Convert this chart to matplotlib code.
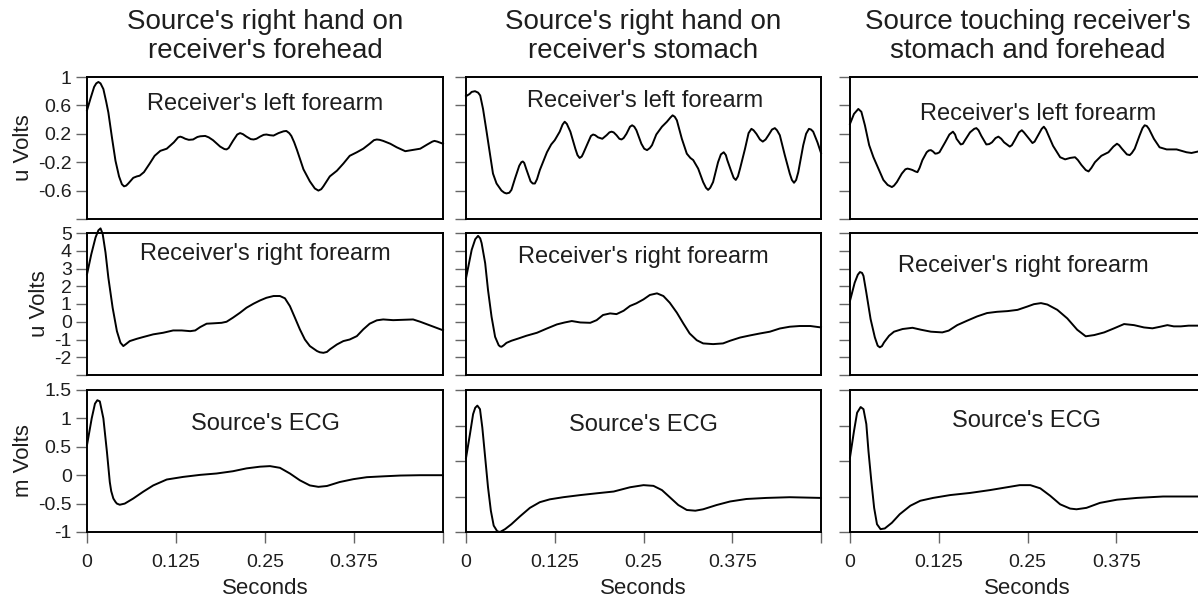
import matplotlib
matplotlib.use("Agg")
import matplotlib.pyplot as plt

plt.rcParams['font.family'] = ['Liberation Sans', 'DejaVu Sans']
plt.rcParams['axes.unicode_minus'] = False

# ---------------- data (seconds, volts) ----------------
col_titles = ["Source's right hand on\nreceiver's forehead",
              "Source's right hand on\nreceiver's stomach",
              "Source touching receiver's\nstomach and forehead"]
row_labels = ["Receiver's left forearm", "Receiver's right forearm", "Source's ECG"]
row_units = ["u Volts", "u Volts", "m Volts"]

x_ticks = [0, 0.125, 0.25, 0.375, 0.5]
x_ticklabels = ["0", "0.125", "0.25", "0.375", ""]

# column 1
t_lf1 = [0, 0.005, 0.010, 0.013, 0.016, 0.019, 0.023, 0.027, 0.030, 0.035, 0.040, 0.045, 0.049, 0.052, 0.055,
         0.058, 0.065, 0.070, 0.074, 0.080, 0.088, 0.095, 0.103, 0.112, 0.122, 0.128, 0.131, 0.134, 0.138, 0.143,
         0.149, 0.155, 0.159, 0.166, 0.171, 0.177, 0.187, 0.193, 0.196, 0.199, 0.205, 0.211, 0.215, 0.219, 0.224,
         0.230, 0.234, 0.238, 0.243, 0.248, 0.252, 0.257, 0.262, 0.269, 0.276, 0.280, 0.284, 0.287, 0.291, 0.295,
         0.304, 0.313, 0.320, 0.325, 0.329, 0.332, 0.341, 0.351, 0.360, 0.369, 0.379, 0.388, 0.397, 0.403, 0.407,
         0.411, 0.416, 0.426, 0.435, 0.447, 0.456, 0.468, 0.478, 0.485, 0.488, 0.492, 0.5]
v_lf1 = [0.53, 0.70, 0.86, 0.91, 0.93, 0.91, 0.83, 0.65, 0.50, 0.15, -0.18, -0.40, -0.51, -0.54, -0.53,
         -0.50, -0.42, -0.40, -0.39, -0.34, -0.22, -0.11, -0.04, -0.01, 0.08, 0.15, 0.16, 0.15, 0.13, 0.115,
         0.12, 0.155, 0.165, 0.17, 0.15, 0.11, 0.02, -0.015, -0.02, 0.0, 0.10, 0.19, 0.21, 0.195, 0.16,
         0.125, 0.12, 0.13, 0.16, 0.185, 0.19, 0.18, 0.175, 0.21, 0.235, 0.24, 0.21, 0.17, 0.08, -0.03,
         -0.30, -0.47, -0.57, -0.60, -0.58, -0.54, -0.40, -0.32, -0.22, -0.11, -0.06, -0.01, 0.06, 0.11, 0.12,
         0.115, 0.10, 0.06, 0.01, -0.045, -0.03, -0.01, 0.05, 0.09, 0.10, 0.09, 0.06]

t_rf1 = [0, 0.006, 0.012, 0.016, 0.019, 0.022, 0.026, 0.030, 0.036, 0.042, 0.047, 0.051, 0.055, 0.060, 0.070,
         0.079, 0.093, 0.107, 0.121, 0.133, 0.145, 0.152, 0.159, 0.168, 0.177, 0.189, 0.196, 0.205, 0.215, 0.224,
         0.234, 0.243, 0.252, 0.262, 0.271, 0.278, 0.285, 0.292, 0.299, 0.306, 0.313, 0.323, 0.327, 0.332, 0.337,
         0.341, 0.351, 0.360, 0.369, 0.379, 0.388, 0.397, 0.407, 0.416, 0.430, 0.444, 0.458, 0.468, 0.478, 0.488,
         0.5]
v_rf1 = [2.67, 3.8, 4.75, 5.15, 5.26, 4.95, 3.9, 2.48, 0.79, -0.53, -1.18, -1.37, -1.25, -1.09, -0.96,
         -0.86, -0.71, -0.62, -0.49, -0.49, -0.53, -0.49, -0.30, -0.11, -0.09, -0.06, 0.0, 0.23, 0.51, 0.79,
         1.02, 1.2, 1.35, 1.45, 1.45, 1.32, 0.88, 0.23, -0.43, -1.0, -1.37, -1.65, -1.72, -1.75, -1.70,
         -1.56, -1.28, -1.09, -1.0, -0.81, -0.43, -0.11, 0.08, 0.13, 0.09, 0.11, 0.13, 0.0, -0.15, -0.3,
         -0.48]

t_ecg1 = [0, 0.0066, 0.0112, 0.0145, 0.018, 0.023, 0.028, 0.032, 0.034, 0.037, 0.040, 0.042, 0.046, 0.053, 0.065,
          0.079, 0.093, 0.112, 0.135, 0.159, 0.182, 0.205, 0.224, 0.243, 0.257, 0.271, 0.285, 0.299, 0.313, 0.325,
          0.337, 0.355, 0.374, 0.393, 0.416, 0.44, 0.468, 0.5]
v_ecg1 = [0.53, 1.0, 1.26, 1.32, 1.30, 1.0, 0.41, -0.12, -0.28, -0.41, -0.47, -0.50, -0.52, -0.50, -0.41,
          -0.29, -0.18, -0.076, -0.03, 0.006, 0.03, 0.07, 0.12, 0.15, 0.16, 0.13, 0.03, -0.09, -0.18, -0.205,
          -0.19, -0.12, -0.07, -0.035, -0.02, -0.006, 0.0, 0.0]

# column 2
t_lf2 = [0, 0.005, 0.008, 0.0127, 0.017, 0.020, 0.024, 0.029, 0.034, 0.038, 0.043, 0.050, 0.054, 0.057, 0.061,
         0.064, 0.069, 0.075, 0.078, 0.080, 0.082, 0.085, 0.091, 0.094, 0.097, 0.100, 0.104, 0.114, 0.120, 0.125,
         0.132, 0.136, 0.139, 0.142, 0.147, 0.154, 0.157, 0.160, 0.163, 0.165, 0.172, 0.176, 0.179, 0.182, 0.186,
         0.192, 0.198, 0.202, 0.205, 0.208, 0.212, 0.216, 0.219, 0.222, 0.226, 0.231, 0.234, 0.237, 0.240, 0.247,
         0.251, 0.255, 0.259, 0.262, 0.268, 0.276, 0.283, 0.288, 0.291, 0.294, 0.297, 0.304, 0.311, 0.316, 0.320,
         0.327, 0.334, 0.338, 0.341, 0.344, 0.348, 0.355, 0.359, 0.363, 0.366, 0.368, 0.374, 0.377, 0.380, 0.383,
         0.386, 0.393, 0.398, 0.402, 0.405, 0.409, 0.414, 0.418, 0.422, 0.426, 0.431, 0.435, 0.438, 0.442, 0.449,
         0.456, 0.459, 0.462, 0.465, 0.468, 0.475, 0.479, 0.483, 0.486, 0.489, 0.495, 0.5]
v_lf2 = [0.73, 0.76, 0.79, 0.80, 0.78, 0.74, 0.55, 0.23, -0.10, -0.36, -0.50, -0.60, -0.63, -0.64, -0.63,
         -0.59, -0.43, -0.25, -0.20, -0.19, -0.21, -0.30, -0.47, -0.50, -0.50, -0.44, -0.31, -0.06, 0.05, 0.11,
         0.23, 0.33, 0.37, 0.34, 0.23, -0.01, -0.10, -0.14, -0.12, -0.08, 0.08, 0.17, 0.19, 0.18, 0.15,
         0.13, 0.18, 0.22, 0.23, 0.22, 0.18, 0.13, 0.12, 0.14, 0.20, 0.30, 0.32, 0.30, 0.25, 0.06,
         -0.01, -0.03, 0.00, 0.04, 0.19, 0.30, 0.37, 0.43, 0.46, 0.44, 0.39, 0.13, -0.08, -0.14, -0.17,
         -0.29, -0.48, -0.56, -0.59, -0.56, -0.48, -0.20, -0.09, -0.06, -0.10, -0.17, -0.34, -0.42, -0.45, -0.40,
         -0.29, -0.01, 0.21, 0.27, 0.25, 0.20, 0.12, 0.09, 0.12, 0.18, 0.26, 0.28, 0.25, 0.18, -0.10,
         -0.36, -0.45, -0.49, -0.45, -0.34, 0.04, 0.20, 0.27, 0.26, 0.23, 0.08, -0.07]

t_rf2 = [0, 0.008, 0.013, 0.017, 0.020, 0.022, 0.027, 0.031, 0.036, 0.041, 0.046, 0.048, 0.050, 0.053, 0.057,
         0.064, 0.074, 0.085, 0.100, 0.114, 0.128, 0.139, 0.149, 0.161, 0.175, 0.184, 0.193, 0.203, 0.212, 0.222,
         0.231, 0.240, 0.250, 0.259, 0.269, 0.278, 0.287, 0.297, 0.306, 0.315, 0.325, 0.334, 0.348, 0.362, 0.372,
         0.386, 0.400, 0.414, 0.428, 0.442, 0.456, 0.470, 0.485, 0.5]
v_rf2 = [2.45, 4.05, 4.65, 4.84, 4.7, 4.43, 3.3, 1.79, 0.28, -0.85, -1.32, -1.39, -1.41, -1.33, -1.19,
         -1.07, -0.94, -0.79, -0.62, -0.38, -0.15, -0.04, 0.04, -0.04, -0.06, 0.09, 0.38, 0.47, 0.43, 0.62,
         0.89, 1.04, 1.26, 1.51, 1.60, 1.45, 1.07, 0.51, -0.09, -0.66, -1.04, -1.22, -1.26, -1.22, -1.07,
         -0.89, -0.77, -0.66, -0.56, -0.38, -0.28, -0.24, -0.24, -0.32]

t_ecg2 = [0, 0.0056, 0.010, 0.013, 0.016, 0.0197, 0.023, 0.027, 0.031, 0.035, 0.039, 0.044, 0.048, 0.055, 0.064,
          0.076, 0.090, 0.104, 0.118, 0.137, 0.161, 0.184, 0.208, 0.231, 0.250, 0.264, 0.276, 0.287, 0.299, 0.311,
          0.323, 0.334, 0.353, 0.372, 0.395, 0.423, 0.456, 0.5]
v_ecg2 = [0.04, 0.38, 0.66, 0.75, 0.78, 0.73, 0.47, 0.05, -0.37, -0.70, -0.91, -0.99, -1.0, -0.96, -0.89,
          -0.78, -0.66, -0.58, -0.54, -0.51, -0.48, -0.455, -0.43, -0.37, -0.34, -0.35, -0.41, -0.51, -0.62, -0.69,
          -0.70, -0.68, -0.62, -0.57, -0.535, -0.52, -0.51, -0.52]

# column 3
t_lf3 = [0, 0.0056, 0.0117, 0.016, 0.021, 0.027, 0.033, 0.040, 0.047, 0.053, 0.059, 0.062, 0.066, 0.073, 0.078,
         0.081, 0.085, 0.088, 0.092, 0.095, 0.098, 0.102, 0.108, 0.111, 0.114, 0.117, 0.120, 0.123, 0.126, 0.134,
         0.140, 0.145, 0.148, 0.150, 0.156, 0.159, 0.162, 0.169, 0.175, 0.178, 0.181, 0.185, 0.192, 0.196, 0.200,
         0.205, 0.209, 0.213, 0.217, 0.225, 0.228, 0.232, 0.238, 0.242, 0.245, 0.249, 0.257, 0.260, 0.265, 0.270,
         0.273, 0.276, 0.279, 0.286, 0.296, 0.303, 0.310, 0.317, 0.321, 0.326, 0.332, 0.336, 0.340, 0.345, 0.354,
         0.364, 0.371, 0.376, 0.379, 0.383, 0.390, 0.394, 0.397, 0.401, 0.408, 0.412, 0.415, 0.418, 0.421, 0.428,
         0.436, 0.446, 0.460, 0.474, 0.481, 0.490, 0.5]
v_lf3 = [0.34, 0.48, 0.55, 0.51, 0.32, 0.04, -0.13, -0.29, -0.45, -0.52, -0.55, -0.53, -0.48, -0.36, -0.30,
         -0.29, -0.30, -0.31, -0.33, -0.34, -0.28, -0.17, -0.06, -0.035, -0.03, -0.05, -0.08, -0.075, -0.06, 0.08,
         0.19, 0.23, 0.19, 0.13, 0.05, 0.06, 0.11, 0.22, 0.27, 0.28, 0.25, 0.17, 0.05, 0.055, 0.08,
         0.14, 0.16, 0.13, 0.08, 0.02, 0.04, 0.11, 0.22, 0.25, 0.22, 0.17, 0.07, 0.09, 0.18, 0.27,
         0.30, 0.26, 0.19, 0.03, -0.13, -0.16, -0.14, -0.13, -0.17, -0.24, -0.31, -0.33, -0.28, -0.20, -0.11,
         -0.06, 0.02, 0.06, 0.04, -0.01, -0.09, -0.10, -0.07, -0.01, 0.18, 0.28, 0.32, 0.31, 0.27, 0.13,
         0.01, -0.02, -0.02, -0.06, -0.07, -0.05, -0.05]

t_rf3 = [0, 0.0066, 0.011, 0.014, 0.017, 0.019, 0.023, 0.029, 0.035, 0.039, 0.042, 0.045, 0.048, 0.055, 0.062,
         0.074, 0.088, 0.100, 0.114, 0.130, 0.139, 0.151, 0.165, 0.179, 0.193, 0.207, 0.222, 0.236, 0.250, 0.259,
         0.269, 0.278, 0.292, 0.306, 0.320, 0.332, 0.344, 0.358, 0.372, 0.386, 0.400, 0.414, 0.426, 0.437, 0.447,
         0.456, 0.466, 0.477, 0.489, 0.5]
v_rf3 = [1.18, 2.2, 2.65, 2.8, 2.75, 2.58, 1.64, 0.15, -0.88, -1.35, -1.44, -1.37, -1.16, -0.79, -0.56,
         -0.41, -0.34, -0.45, -0.56, -0.60, -0.50, -0.19, 0.06, 0.30, 0.49, 0.56, 0.60, 0.67, 0.86, 0.99,
         1.05, 0.97, 0.67, 0.19, -0.45, -0.82, -0.75, -0.60, -0.37, -0.13, -0.19, -0.32, -0.37, -0.28, -0.19,
         -0.26, -0.26, -0.22, -0.22, -0.22]

t_ecg3 = [0, 0.0056, 0.010, 0.015, 0.019, 0.023, 0.026, 0.030, 0.034, 0.038, 0.043, 0.049, 0.059, 0.070, 0.085,
          0.099, 0.117, 0.141, 0.169, 0.197, 0.221, 0.239, 0.254, 0.268, 0.282, 0.296, 0.310, 0.319, 0.333, 0.352,
          0.376, 0.404, 0.441, 0.49, 0.5]
v_ecg3 = [0.05, 0.42, 0.68, 0.76, 0.73, 0.52, 0.14, -0.28, -0.66, -0.89, -0.96, -0.95, -0.87, -0.75, -0.63,
          -0.56, -0.52, -0.48, -0.45, -0.41, -0.37, -0.34, -0.34, -0.385, -0.49, -0.61, -0.67, -0.68, -0.66, -0.59,
          -0.545, -0.52, -0.50, -0.50, -0.50]

# y axes per row: ticks and labels
y1_ticks = [-1, -0.6, -0.2, 0.2, 0.6, 1]
y1_labels = ["", "-0.6", "-0.2", "0.2", "0.6", "1"]
y2_ticks = [-3, -2, -1, 0, 1, 2, 3, 4, 5]
y2_labels = ["", "-2", "-1", "0", "1", "2", "3", "4", "5"]
y3_ticks = [-1, -0.5, 0, 0.5, 1, 1.5]
y3_labels = ["-1", "-0.5", "0", "0.5", "1", "1.5"]
y3b_ticks = [-1, -0.5, 0, 0.5, 1]   # ECG panels of columns 2 and 3

series = [
    [(t_lf1, v_lf1), (t_rf1, v_rf1), (t_ecg1, v_ecg1)],
    [(t_lf2, v_lf2), (t_rf2, v_rf2), (t_ecg2, v_ecg2)],
    [(t_lf3, v_lf3), (t_rf3, v_rf3), (t_ecg3, v_ecg3)],
]

# ---------------- layout ----------------
W, H = 1198, 601
fig = plt.figure(figsize=(W / 100, H / 100), dpi=100)

col_px = [(87, 443), (466, 821), (850, 1205)]
row_px = [(77, 219), (233, 375), (390, 532)]
label_pos = [
    [(0.50, 0.768), (0.50, 0.81), (0.50, 0.718)],
    [(0.505, 0.789), (0.50, 0.789), (0.50, 0.711)],
    [(0.53, 0.697), (0.487, 0.725), (0.497, 0.739)],
]
text_col = '#1e1e1e'
tick_col = '#666666'

for c in range(3):
    x0, x1 = col_px[c]
    for r in range(3):
        y0, y1 = row_px[r]
        ax = fig.add_axes([x0 / W, 1 - y1 / H, (x1 - x0) / W, (y1 - y0) / H])
        t, v = series[c][r]
        ax.plot(t, v, color='black', lw=1.4, clip_on=False, solid_joinstyle='round')
        ax.set_xlim(0, 0.5)
        if r == 0:
            ax.set_ylim(-1, 1)
            ax.set_yticks(y1_ticks)
            ax.set_yticklabels(y1_labels if c == 0 else [""] * len(y1_ticks))
        elif r == 1:
            ax.set_ylim(-3, 5)
            ax.set_yticks(y2_ticks)
            ax.set_yticklabels(y2_labels if c == 0 else [""] * len(y2_ticks))
        else:
            if c == 0:
                ax.set_ylim(-1, 1.5)
                ax.set_yticks(y3_ticks)
                ax.set_yticklabels(y3_labels)
            else:
                ax.set_ylim(-1, 1)
                ax.set_yticks(y3b_ticks)
                ax.set_yticklabels([""] * len(y3b_ticks))
        if r == 2:
            ax.set_xticks(x_ticks)
            ax.set_xticklabels(x_ticklabels)
            ax.set_xlabel("Seconds", fontsize=16, color=text_col, labelpad=5)
        else:
            ax.set_xticks([])
        ax.tick_params(axis='x', direction='out', length=8, width=1.0, color=tick_col,
                       labelsize=14, labelcolor=text_col, pad=8)
        ax.tick_params(axis='y', direction='out', length=8, width=1.0, color=tick_col,
                       labelsize=14, labelcolor=text_col, pad=3)
        for s in ax.spines.values():
            s.set_linewidth(1.4)
            s.set_color('black')
        if c == 0:
            ax.set_ylabel(row_units[r], fontsize=16, color=text_col, labelpad=3)
        lx, ly = label_pos[c][r]
        ax.text(lx, ly, row_labels[r], transform=ax.transAxes, ha='center', va='baseline',
                fontsize=17, color=text_col)
    fig.text(((x0 + x1) / 2) / W, 1 - 9 / H, col_titles[c], ha='center', va='top',
             fontsize=20, color=text_col, linespacing=1.15)

fig.savefig("out.png", dpi=100)
